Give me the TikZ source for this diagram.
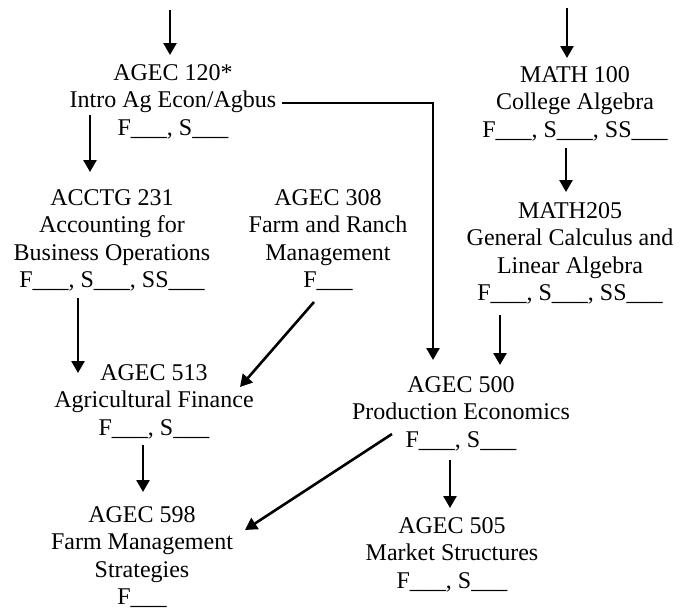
\documentclass[tikz,border=0pt]{standalone}
\usepackage{fontspec}
\setmainfont{Liberation Serif}
\usepackage{tikz}
\usetikzlibrary{arrows.meta}
\tikzstyle{course} = [anchor=north, align=center, inner sep=0pt,
                 font=\fontsize{24}{27.6}\selectfont]
\tikzset{
	prereq/.style={line width=2.6pt, -{Triangle[width=13pt,length=12pt]}},
}
\begin{document}
\begin{tikzpicture}[x=1pt, y=-1pt]

\useasboundingbox (0,0) rectangle (689,611);

% courses
\node [course] at (173,64) (a120) {AGEC 120*\\Intro Ag Econ/Agbus\\F\_\_\_, S\_\_\_};
\node [course] at (575,66) (m100) {MATH 100\\College Algebra\\F\_\_\_, S\_\_\_, SS\_\_\_};
\node [course] at (112,189) (acctg) {ACCTG 231\\Accounting for\\Business Operations\\F\_\_\_, S\_\_\_, SS\_\_\_};
\node [course] at (328,189) (a308) {AGEC 308\\Farm and Ranch\\Management\\F\_\_\_};
\node [course] at (570,202) (m205) {MATH205\\General Calculus and\\Linear Algebra\\F\_\_\_, S\_\_\_, SS\_\_\_};
\node [course] at (154,364) (a513) {AGEC 513\\Agricultural Finance\\F\_\_\_, S\_\_\_};
\node [course] at (461,376) (a500) {AGEC 500\\Production Economics\\F\_\_\_, S\_\_\_};
\node [course] at (142,506) (a598) {AGEC 598\\Farm Management\\Strategies\\F\_\_\_};
\node [course] at (452,517) (a505) {AGEC 505\\Market Structures\\F\_\_\_, S\_\_\_};

% incoming from above
\coordinate (from120) at (170,10);
\coordinate (from100) at (567,8);
\draw [prereq] (from120) -- ([xshift=-3pt,yshift=9pt]a120.north);
\draw [prereq] (from100) -- ([xshift=-8pt,yshift=8pt]m100.north);

% prerequisites
\draw [prereq] ([xshift=-83pt,yshift=-51pt]a120.north) -- ([xshift=-22pt,yshift=17pt]acctg.north);
\draw [prereq] ([xshift=109pt,yshift=-39pt]a120.north) -| ([xshift=-28pt,yshift=16pt]a500.north);
\draw [prereq] ([xshift=-9pt,yshift=-82pt]m100.north) -- ([xshift=-4pt,yshift=10pt]m205.north);
\draw [prereq] ([xshift=-34pt,yshift=-109pt]acctg.north) -- ([xshift=-76pt,yshift=-9pt]a513.north);
\draw [prereq] ([xshift=-14pt,yshift=-113pt]a308.north) -- ([xshift=86pt,yshift=-23pt]a513.north);
\draw [prereq] ([xshift=-70pt,yshift=-113pt]m205.north) -- ([xshift=39pt,yshift=11pt]a500.north);
\draw [prereq] ([xshift=-69pt,yshift=-58pt]a500.north) -- ([xshift=103pt,yshift=-24pt]a598.north);
\draw [prereq] ([xshift=-11pt,yshift=-81pt]a513.north) -- ([xshift=1pt,yshift=14pt]a598.north);
\draw [prereq] ([xshift=-11pt,yshift=-84pt]a500.north) -- ([xshift=-2pt,yshift=9pt]a505.north);

\end{tikzpicture}
\end{document}
